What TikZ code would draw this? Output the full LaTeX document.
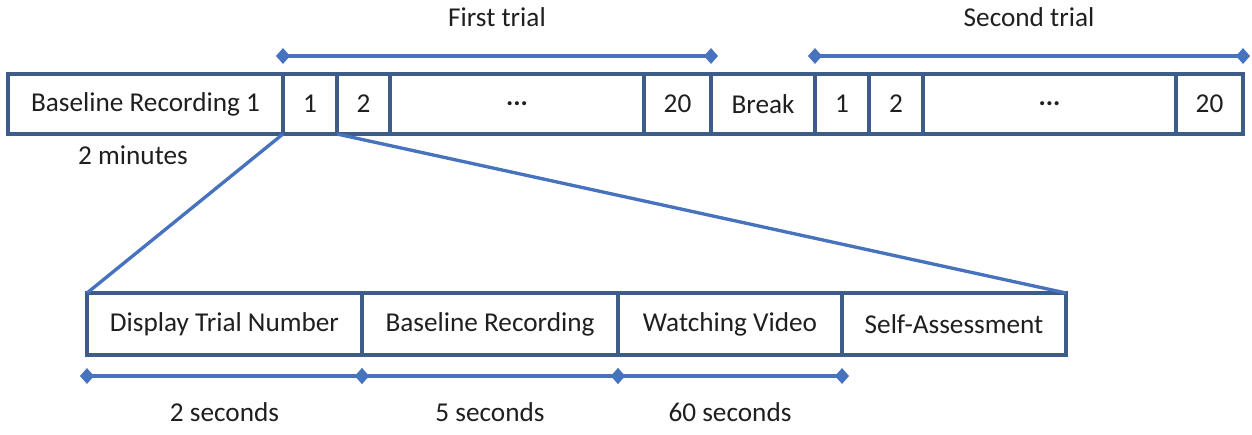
\documentclass[tikz,border=0pt]{standalone}
\usepackage{fontspec}
\setmainfont{Carlito}
\usepackage{tikz}
\usetikzlibrary{positioning,arrows.meta}
\definecolor{boxblue}{RGB}{62,92,138}
\definecolor{lineblue}{RGB}{70,114,190}

\begin{document}
\begin{tikzpicture}[
  box/.style={draw=boxblue,line width=2pt,minimum height=1.2cm,inner sep=0pt,outer sep=0pt,text=black!88},
  span/.style={draw=lineblue,line width=1.8pt,{Diamond[length=8pt,width=9pt]}-{Diamond[length=8pt,width=9pt]},shorten <=-4pt,shorten >=-4pt},
  zoomline/.style={draw=lineblue,line width=1.9pt},
  lbl/.style={text=black!88},
  font=\fontsize{15.5}{18}\selectfont]
  \useasboundingbox (0,0) rectangle (25.04,-8.68);
  % top row: both trials
  \node[box,minimum width=5.5cm,anchor=west] (rec1) at (0.16,-2.08) {Baseline Recording 1};
  \node[box,minimum width=1.08cm,right=0pt of rec1] (ta1) {1};
  \node[box,minimum width=1.06cm,right=0pt of ta1] (ta2) {2};
  \node[box,minimum width=5.08cm,right=0pt of ta2] (tadots) {\textbf{...}};
  \node[box,minimum width=1.34cm,right=0pt of tadots] (ta20) {20};
  \node[box,minimum width=2.08cm,right=0pt of ta20] (brk) {Break};
  \node[box,minimum width=1.08cm,right=0pt of brk] (tb1) {1};
  \node[box,minimum width=1.08cm,right=0pt of tb1] (tb2) {2};
  \node[box,minimum width=5.06cm,right=0pt of tb2] (tbdots) {\textbf{...}};
  \node[box,minimum width=1.34cm,right=0pt of tbdots] (tb20) {20};
  \node[lbl] (mins) at (2.66,-3.1) {2 minutes};
  \coordinate (fa) at ([yshift=0.36cm]ta1.north west);
  \coordinate (fb) at ([yshift=0.36cm]ta20.north east);
  \coordinate (sa) at ([yshift=0.36cm]tb1.north west);
  \coordinate (sb) at ([yshift=0.36cm]tb20.north east);
  \draw[span] (fa) -- node[lbl,yshift=0.78cm] (first) {First trial} (fb);
  \draw[span] (sa) -- node[lbl,yshift=0.78cm] (second) {Second trial} (sb);
  % bottom row: one trial
  \node[box,minimum width=5.5cm,minimum height=1.24cm,anchor=west] (disp) at (1.74,-6.48) {Display Trial Number};
  \node[box,minimum width=5.12cm,minimum height=1.24cm,right=0pt of disp] (base) {Baseline Recording};
  \node[box,minimum width=4.48cm,minimum height=1.24cm,right=0pt of base] (watch) {Watching Video};
  \node[box,minimum width=4.48cm,minimum height=1.24cm,right=0pt of watch] (self) {Self-Assessment};
  \draw[zoomline] (ta1.south west) -- (disp.north west);
  \draw[zoomline] (ta1.south east) -- (self.north east);
  \coordinate (d0) at ([yshift=-0.42cm]disp.south west);
  \coordinate (d1) at ([yshift=-0.42cm]disp.south east);
  \coordinate (d2) at ([yshift=-0.42cm]base.south east);
  \coordinate (d3) at ([yshift=-0.42cm]watch.south east);
  \draw[span] (d0) -- node[lbl,yshift=-0.72cm] (sec2) {2 seconds} (d1);
  \draw[span] (d1) -- node[lbl,yshift=-0.72cm] (sec5) {5 seconds} (d2);
  \draw[span] (d2) -- node[lbl,yshift=-0.72cm] (sec60) {60 seconds} (d3);
\end{tikzpicture}
\end{document}
